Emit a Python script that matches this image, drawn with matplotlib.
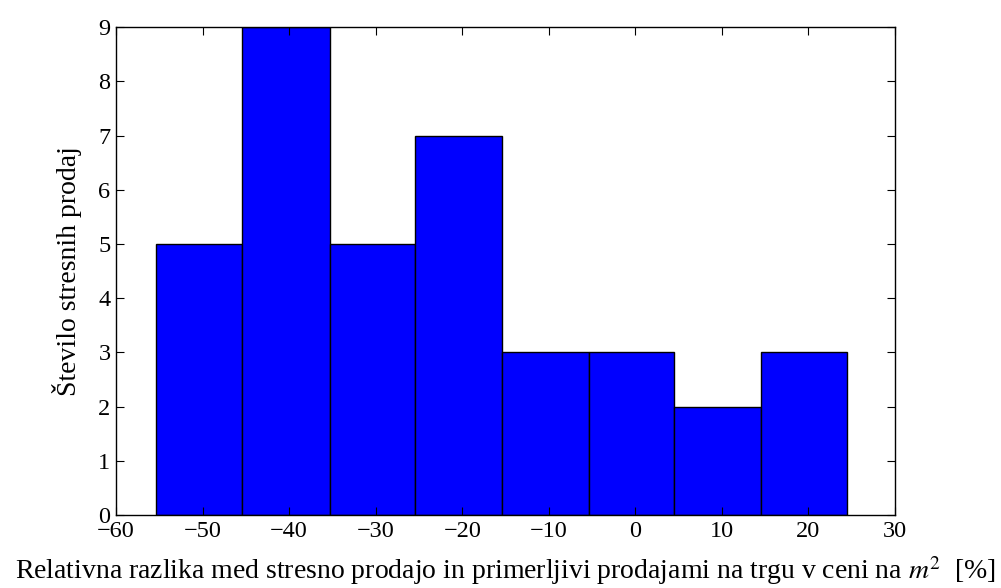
import numpy as np
import matplotlib
matplotlib.use('Agg')
import matplotlib.pyplot as plt

# histogram of relative price differences (stress sales vs. comparable sales)
bin_edges = [-55.4, -45.4, -35.3, -25.4, -15.4, -5.4, 4.5, 14.5, 24.5]
counts = [5, 9, 5, 7, 3, 3, 2, 3]

plt.rcParams['font.family'] = ['Liberation Serif', 'DejaVu Serif']
plt.rcParams['mathtext.fontset'] = 'stix'
plt.rcParams['font.size'] = 17

fig = plt.figure(figsize=(10.01, 5.88), dpi=100)
ax = fig.add_axes([0.1159, 0.124, 0.7782, 0.830])

left = np.array(bin_edges[:-1])
widths = np.diff(bin_edges)
ax.bar(left, counts, width=widths, align='edge', color='#0000ff',
       edgecolor='black', linewidth=1.0)

ax.set_xlim(-60, 30)
ax.set_ylim(0, 9)
ax.set_xticks(range(-60, 31, 10))
ax.set_yticks(range(0, 10))
ax.tick_params(direction='in', length=6, width=0.8, top=True, right=True,
               pad=4, labelsize=17.5)
for s in ax.spines.values():
    s.set_linewidth(1.0)

ax.set_xlabel('Relativna razlika med stresno prodajo in primerljivi prodajami na trgu v ceni na $m^2$  [%]',
              fontsize=20, labelpad=9)
ax.set_ylabel('Število stresnih prodaj', fontsize=20, labelpad=12)

fig.savefig('out.png', dpi=100)
